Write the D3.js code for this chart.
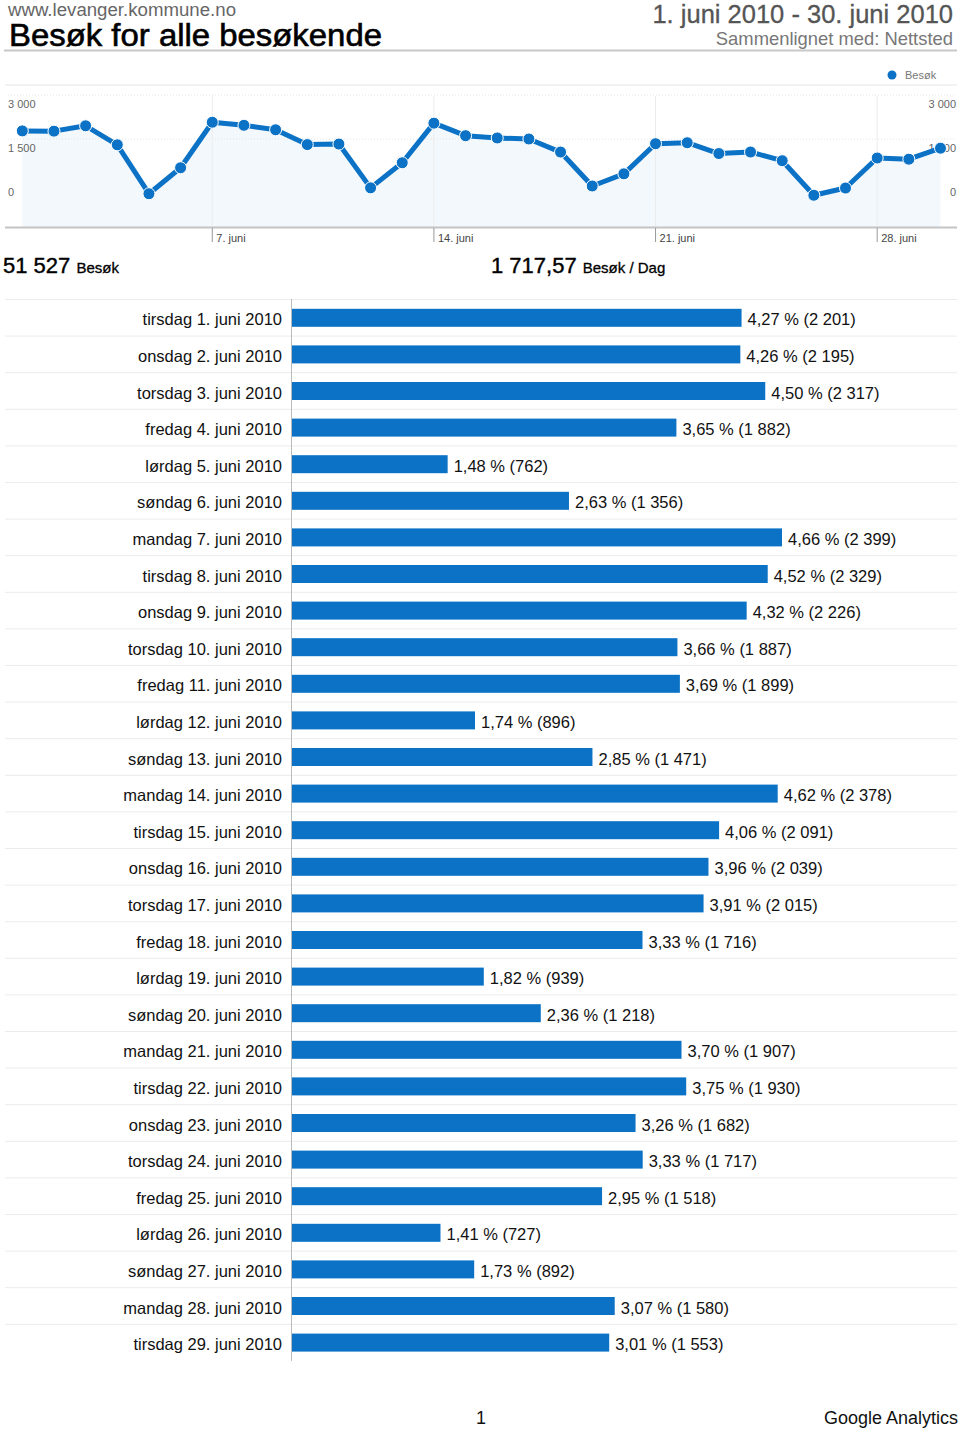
<!DOCTYPE html>
<html><head><meta charset="utf-8">
<script src="https://cdn.jsdelivr.net/npm/d3@7"></script>
<style>
html,body{margin:0;padding:0;background:#fff;}
svg{display:block;font-family:"Liberation Sans",Arial,Helvetica,sans-serif;}
</style></head>
<body>
<svg id="c" width="960" height="1431"></svg>
<script>
// ---- data ----
const days = [
 "tirsdag 1. juni 2010","onsdag 2. juni 2010","torsdag 3. juni 2010","fredag 4. juni 2010",
 "lørdag 5. juni 2010","søndag 6. juni 2010","mandag 7. juni 2010","tirsdag 8. juni 2010",
 "onsdag 9. juni 2010","torsdag 10. juni 2010","fredag 11. juni 2010","lørdag 12. juni 2010",
 "søndag 13. juni 2010","mandag 14. juni 2010","tirsdag 15. juni 2010","onsdag 16. juni 2010",
 "torsdag 17. juni 2010","fredag 18. juni 2010","lørdag 19. juni 2010","søndag 20. juni 2010",
 "mandag 21. juni 2010","tirsdag 22. juni 2010","onsdag 23. juni 2010","torsdag 24. juni 2010",
 "fredag 25. juni 2010","lørdag 26. juni 2010","søndag 27. juni 2010","mandag 28. juni 2010",
 "tirsdag 29. juni 2010"];
const visits = [2201,2195,2317,1882,762,1356,2399,2329,2226,1887,1899,896,1471,2378,2091,2039,
 2015,1716,939,1218,1907,1930,1682,1717,1518,727,892,1580,1553];
const percents = ["4,27","4,26","4,50","3,65","1,48","2,63","4,66","4,52","4,32","3,66","3,69","1,74",
 "2,85","4,62","4,06","3,96","3,91","3,33","1,82","2,36","3,70","3,75","3,26","3,33","2,95","1,41",
 "1,73","3,07","3,01"];
// line chart: all 30 days (30. juni included)
const lineVisits = visits.concat([1805]);
const yTicks = [0,1500,3000];
const yTickLabels = ["0","1 500","3 000"];
const xTickDays = [7,14,21,28];
const xTickLabels = ["7. juni","14. juni","21. juni","28. juni"];

const blue = "#0b72c6";
const svg = d3.select("#c");
const fmt = v => d3.format(",")(v).replace(/,/g," ");

// ---- header ----
svg.append("text").attr("x",8).attr("y",16).attr("font-size",17.5).attr("fill","#666")
  .attr("textLength",228).attr("lengthAdjust","spacingAndGlyphs").text("www.levanger.kommune.no");
svg.append("text").attr("x",9).attr("y",46).attr("font-size",31).attr("fill","#000")
  .attr("stroke","#000").attr("stroke-width",0.6)
  .attr("textLength",373).attr("lengthAdjust","spacingAndGlyphs").text("Besøk for alle besøkende");
svg.append("text").attr("x",953).attr("y",23).attr("font-size",25.5).attr("fill","#555")
  .attr("stroke","#555").attr("stroke-width",0.3).attr("text-anchor","end").text("1. juni 2010 - 30. juni 2010");
svg.append("text").attr("x",953).attr("y",45).attr("font-size",18.4).attr("fill","#777").attr("text-anchor","end").text("Sammenlignet med: Nettsted");
svg.append("line").attr("x1",4).attr("x2",957).attr("y1",50.5).attr("y2",50.5).attr("stroke","#c8c8c8").attr("stroke-width",2);

// ---- line chart ----
const xL = d3.scaleLinear().domain([1,30]).range([22.3,940.5]);
const yData = d3.scaleLinear().domain([0,3000]).range([227,96]);
const yTick = d3.scaleLinear().domain([0,3000]).range([183,95]);

svg.append("line").attr("x1",5).attr("x2",957).attr("y1",85).attr("y2",85).attr("stroke","#e6e6e6");
// legend
svg.append("circle").attr("cx",892).attr("cy",75).attr("r",4.5).attr("fill",blue);
svg.append("text").attr("x",905).attr("y",79).attr("font-size",11).attr("fill","#777").text("Besøk");

// area
const pts = lineVisits.map((v,i)=>({d:i+1,v}));
svg.append("path").datum(pts).attr("fill","#f3f8fc")
  .attr("d",d3.area().x(p=>xL(p.d)).y0(yData(0)).y1(p=>yData(p.v)));
// horizontal dotted grid
svg.selectAll(".hg").data(yTicks.filter(t=>t>0)).enter().append("line")
  .attr("x1",8).attr("x2",955).attr("y1",t=>yTick(t)).attr("y2",t=>yTick(t))
  .attr("stroke","#e4e4e4").attr("stroke-dasharray","1,2");
// vertical grid
svg.selectAll(".vg").data(xTickDays).enter().append("line")
  .attr("x1",d=>xL(d)).attr("x2",d=>xL(d)).attr("y1",96).attr("y2",227)
  .attr("stroke","#ececec");
// axis baseline
svg.append("line").attr("x1",5).attr("x2",957).attr("y1",227.5).attr("y2",227.5).attr("stroke","#c4c4c4").attr("stroke-width",2);
// x ticks
svg.selectAll(".xt").data(xTickDays).enter().append("line")
  .attr("x1",d=>xL(d)).attr("x2",d=>xL(d)).attr("y1",228).attr("y2",242).attr("stroke","#999");
svg.selectAll(".xl").data(xTickDays).enter().append("text")
  .attr("x",d=>xL(d)+4).attr("y",242).attr("font-size",11).attr("fill","#444")
  .text((d,i)=>xTickLabels[i]);
// y labels
svg.selectAll(".yl").data(yTicks).enter().append("text")
  .attr("x",8).attr("y",t=>yTick(t)+13).attr("font-size",11).attr("fill","#666")
  .text((t,i)=>yTickLabels[i]);
svg.selectAll(".yr").data(yTicks).enter().append("text")
  .attr("x",956).attr("y",t=>yTick(t)+13).attr("font-size",11).attr("fill","#666").attr("text-anchor","end")
  .text((t,i)=>yTickLabels[i]);
// line + points
svg.append("path").datum(pts).attr("fill","none").attr("stroke",blue).attr("stroke-width",5)
  .attr("stroke-linejoin","round")
  .attr("d",d3.line().x(p=>xL(p.d)).y(p=>yData(p.v)));
svg.selectAll(".pt").data(pts).enter().append("circle")
  .attr("cx",p=>xL(p.d)).attr("cy",p=>yData(p.v)).attr("r",6)
  .attr("fill",blue).attr("stroke","#fff").attr("stroke-width",1);

// ---- summary ----
const total = d3.sum(lineVisits);
const s1 = svg.append("text").attr("x",3).attr("y",273).attr("fill","#000");
s1.append("tspan").attr("font-size",22).attr("stroke","#000").attr("stroke-width",0.4).text(fmt(total)+" ");
s1.append("tspan").attr("font-size",15).attr("stroke","#000").attr("stroke-width",0.3).text("Besøk");
const s2 = svg.append("text").attr("x",491).attr("y",273).attr("fill","#000");
s2.append("tspan").attr("font-size",22).attr("stroke","#000").attr("stroke-width",0.4).text("1 717,57 ");
s2.append("tspan").attr("font-size",15).attr("stroke","#000").attr("stroke-width",0.3).text("Besøk / Dag");

// ---- bar chart ----
const y = d3.scaleBand().domain(days).range([299.5,299.5+36.6*days.length]).paddingInner(0);
const x = d3.scaleLinear().domain([0,2399]).range([292,782]);
const rows = svg.append("g");
// separators
rows.selectAll(".sep").data(d3.range(days.length)).enter().append("line")
  .attr("x1",5).attr("x2",957)
  .attr("y1",i=>y.range()[0]+i*y.step()).attr("y2",i=>y.range()[0]+i*y.step())
  .attr("stroke","#ececec");
// bars
rows.selectAll(".bar").data(visits).enter().append("rect")
  .attr("x",x(0)).attr("y",(v,i)=>y(days[i])+y.bandwidth()/2-9)
  .attr("width",v=>x(v)-x(0)).attr("height",18).attr("fill",blue);
// axis line
rows.append("line").attr("x1",291.5).attr("x2",291.5).attr("y1",299).attr("y2",y.range()[1]).attr("stroke","#bbb");
// labels
rows.selectAll(".dl").data(days).enter().append("text")
  .attr("x",282).attr("y",d=>y(d)+y.bandwidth()/2+7.5).attr("text-anchor","end")
  .attr("font-size",16.5).attr("fill","#111").text(d=>d);
rows.selectAll(".vl").data(visits).enter().append("text")
  .attr("x",v=>x(v)+6).attr("y",(v,i)=>y(days[i])+y.bandwidth()/2+7.5)
  .attr("font-size",16.5).attr("fill","#111").text((v,i)=>percents[i]+" % ("+fmt(v)+")");

// ---- footer ----
svg.append("text").attr("x",481).attr("y",1424).attr("font-size",18).attr("text-anchor","middle").attr("fill","#111").text("1");
svg.append("text").attr("x",958).attr("y",1424).attr("font-size",18).attr("text-anchor","end").attr("fill","#111").text("Google Analytics");
</script>
</body></html>
